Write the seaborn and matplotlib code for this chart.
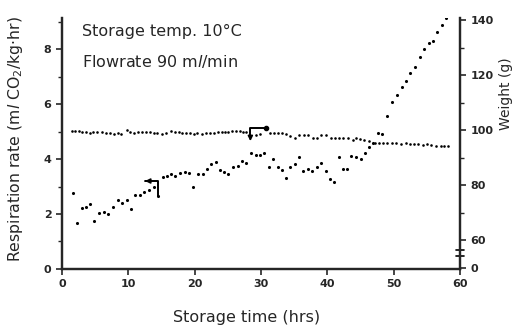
import numpy as np
import pandas as pd
import matplotlib
matplotlib.use("Agg")
import matplotlib.pyplot as plt
import seaborn as sns

# respiration rate (ml CO2/kg.hr) vs storage time (hrs)
resp_time = [1.6, 2.3, 3.0, 3.6, 4.3, 4.9, 5.6, 6.3, 7.0, 7.7, 8.4, 9.1, 9.8, 10.4,
             11.0, 11.7, 12.4, 13.1, 13.8, 14.5, 15.2, 15.8, 16.5, 17.1, 17.8, 18.5,
             19.2, 19.8, 20.5, 21.2, 21.8, 22.5, 23.2, 23.8, 24.5, 25.1, 25.8, 26.5,
             27.1, 27.7, 28.5, 29.2, 29.9, 30.5, 31.2, 31.8, 32.5, 33.2, 33.7, 34.4,
             35.1, 35.8, 36.4, 37.1, 37.7, 38.4, 39.0, 39.8, 40.4, 41.0, 41.7, 42.3,
             42.9, 43.6, 44.4, 45.1, 45.7, 46.3, 46.9, 47.6, 48.3, 49.0, 49.8, 50.5,
             51.3, 51.8, 52.4, 53.2, 54.0, 54.6, 55.3, 55.9, 56.5, 57.3, 57.9]
resp_rate = [2.75, 1.66, 2.20, 2.24, 2.36, 1.76, 2.02, 2.07, 2.01, 2.24, 2.51, 2.39,
             2.51, 2.17, 2.68, 2.68, 2.81, 2.87, 2.97, 2.65, 3.36, 3.39, 3.45, 3.38,
             3.50, 3.52, 3.49, 3.00, 3.45, 3.44, 3.62, 3.83, 3.88, 3.59, 3.52, 3.47,
             3.71, 3.76, 3.94, 3.85, 4.23, 4.15, 4.13, 4.22, 3.70, 3.99, 3.70, 3.59,
             3.32, 3.70, 3.83, 4.07, 3.56, 3.64, 3.56, 3.70, 3.84, 3.58, 3.27, 3.15,
             4.06, 3.63, 3.64, 4.11, 4.08, 4.00, 4.21, 4.45, 4.57, 4.96, 4.90, 5.56,
             6.08, 6.33, 6.61, 6.85, 7.14, 7.36, 7.72, 7.99, 8.23, 8.30, 8.62, 8.86,
             9.13]

# weight (g) vs storage time (hrs)
wt_time = [1.5, 2.0, 2.5, 3.0, 3.6, 4.2, 4.7, 5.3, 6.0, 6.7, 7.2, 7.8, 8.4, 8.9,
           9.8, 10.3, 10.9, 11.5, 12.0, 12.7, 13.3, 13.8, 14.4, 15.1, 15.7, 16.4,
           17.1, 17.6, 18.1, 18.7, 19.3, 19.9, 20.4, 21.1, 21.7, 22.3, 22.9, 23.5,
           24.1, 24.6, 25.1, 25.6, 26.3, 26.8, 27.3, 27.8, 29.2, 29.8, 31.3, 31.9,
           32.5, 33.2, 33.8, 34.4, 35.1, 35.8, 36.5, 37.1, 37.8, 38.5, 39.1, 39.8,
           40.5, 41.1, 41.8, 42.4, 43.1, 43.8, 44.4, 45.0, 45.6, 46.3, 47.2, 47.8,
           48.4, 49.0, 49.7, 50.4, 51.1, 51.8, 52.5, 53.1, 53.7, 54.4, 55.1, 55.7,
           56.4, 57.1, 57.6, 58.2]
wt_grams = [99.8, 99.8, 99.6, 99.5, 99.2, 99.0, 99.3, 99.2, 99.3, 98.8, 98.8, 98.7,
            98.8, 98.7, 100.0, 99.5, 99.0, 99.2, 99.2, 99.3, 99.2, 99.0, 98.8, 98.7,
            99.0, 99.6, 99.3, 99.3, 99.0, 98.8, 99.0, 98.7, 98.8, 98.7, 98.8, 99.0,
            99.0, 99.2, 99.3, 99.5, 99.5, 99.8, 99.6, 99.6, 99.5, 99.4, 98.2, 98.5,
            99.0, 99.0, 99.0, 99.0, 98.5, 97.8, 97.3, 98.1, 98.1, 98.1, 97.3, 97.3,
            98.1, 98.1, 97.3, 97.3, 97.3, 97.3, 97.0, 96.6, 97.3, 96.8, 96.6, 96.0,
            95.5, 95.5, 95.4, 95.4, 95.4, 95.2, 94.8, 95.4, 94.8, 94.8, 94.8, 94.7,
            94.8, 94.7, 94.3, 94.2, 94.2, 94.2]

x_ticks = [0, 10, 20, 30, 40, 50, 60]
left_ticks = [0, 2, 4, 6, 8]
right_ticks = [50, 60, 80, 100, 120, 140]
right_labels = ["0", "60", "80", "100", "120", "140"]

sns.set_style("ticks")
plt.rcParams["font.family"] = ["DejaVu Sans"]
plt.rcParams["mathtext.fontset"] = "dejavusans"

resp = pd.DataFrame({"time": resp_time, "rate": resp_rate})
wt = pd.DataFrame({"time": wt_time, "weight": wt_grams})

fig = plt.figure(figsize=(5.23, 3.28), dpi=100)
ax = fig.add_axes([0.1185, 0.18, 0.761, 0.765])
ax2 = ax.twinx()

sns.scatterplot(data=resp, x="time", y="rate", ax=ax, color="black",
                s=5, linewidth=0, legend=False)
sns.scatterplot(data=wt, x="time", y="weight", ax=ax2, color="black",
                s=3.5, linewidth=0, legend=False)

ax.set_xlim(0, 60)
ax.set_ylim(0, 9.13)
ax2.set_ylim(49.5, 140.8)

# brackets pointing to the axis each series belongs to
ax.plot([14.5, 14.5, 12.6], [2.65, 3.2, 3.2], color="black", lw=1.4)
ax.annotate("", xy=(12.1, 3.2), xytext=(13.0, 3.2),
            arrowprops=dict(arrowstyle="-|>", color="black", lw=1.2, mutation_scale=7))
ax.plot([30.7, 28.4, 28.4], [5.12, 5.12, 4.8], color="black", lw=1.4)
ax.plot([30.7], [5.12], "o", color="black", ms=3)
ax.annotate("", xy=(28.4, 4.55), xytext=(28.4, 4.9),
            arrowprops=dict(arrowstyle="-|>", color="black", lw=1.2, mutation_scale=7))

ax.text(3.0, 8.65, "Storage temp. 10\u00b0C", fontsize=11.5, va="center")
ax.text(3.0, 7.55, "Flowrate 90 m$\\it{l}$/min", fontsize=11.5, va="center")

ax.set_xticks(x_ticks)
ax.set_yticks(left_ticks)
ax.set_yticks([1, 3, 5, 7, 9], minor=True)
ax2.set_yticks(right_ticks)
ax2.set_yticklabels(right_labels)
ax2.set_yticks([70, 90, 110, 130], minor=True)
ax.set_xticklabels([str(v) for v in x_ticks], fontweight="bold", fontsize=8)
ax.set_yticklabels([str(v) for v in left_ticks], fontweight="bold", fontsize=8)
for lab in ax2.get_yticklabels():
    lab.set_fontweight("bold")
    lab.set_fontsize(8)

for a in (ax, ax2):
    a.tick_params(which="major", length=4, width=1.2)
    a.tick_params(which="minor", length=3, width=1.0)
    for s in a.spines.values():
        s.set_linewidth(1.6)
    a.spines["top"].set_visible(False)

ax.set_xlabel("Storage time (hrs)", fontsize=11.5)
ax.xaxis.set_label_coords(0.465, -0.165)
ax.set_ylabel("Respiration rate (m$\\it{l}$ CO$_2$/kg\u00b7hr)", fontsize=11.3)
ax.yaxis.set_label_coords(-0.093, 0.52)
ax2.set_ylabel("Weight (g)", fontsize=10)
ax2.yaxis.set_label_coords(1.098, 0.70)
ax2.set_xlabel("")

# axis break marks on the weight axis
ax2.plot([60.6, 59.4], [56.4, 56.4], color="black", lw=1.2, clip_on=False)
ax2.plot([60.6, 59.4], [54.2, 54.2], color="black", lw=1.2, clip_on=False)

fig.savefig("out.png", dpi=100)
plt.close(fig)
